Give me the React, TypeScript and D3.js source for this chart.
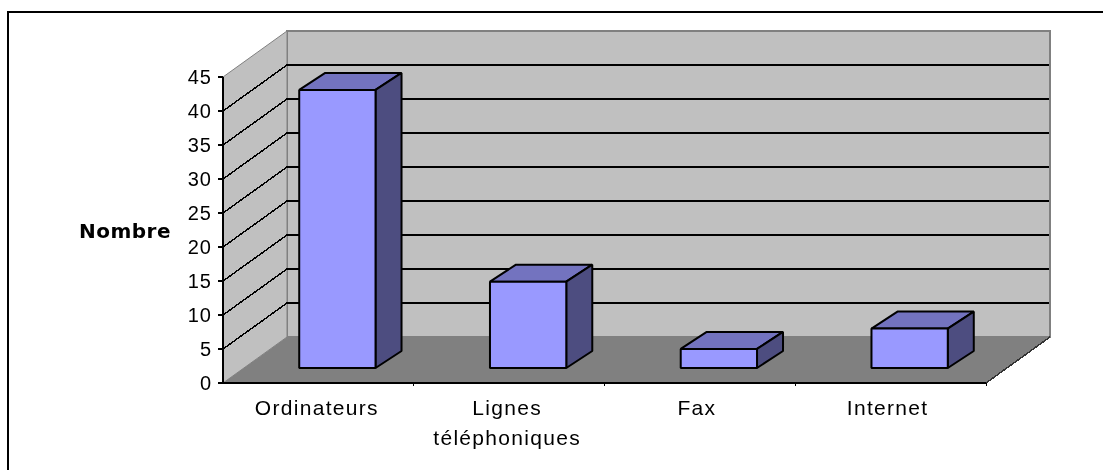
import React from "react"
import { scaleBand, scaleLinear, range, line } from "d3"

const categories = ["Ordinateurs", "Lignes\ntéléphoniques", "Fax", "Internet"]
const values = [40.9, 12.7, 2.8, 5.8]
const yTicks = range(0, 50, 5)
const axisTitle = "Nombre"

const width = 1103
const height = 470

// the 3D box: front edge of the floor, plus the offset to the back wall
const depthX = 64
const depthY = -46
// bars stand a bit inside the floor
const barShiftX = 19
const barShiftY = -15
const barDepthX = 26
const barDepthY = -17

const x = scaleBand<string>().domain(categories).range([223, 986])
const y = scaleLinear().domain([0, 45]).range([383, 77])
const barWidth = x.bandwidth() * 0.4

const poly = line()

const font = "'Liberation Sans', Arial, sans-serif"

export default function App() {
  const x0 = x.range()[0]
  const x1 = x.range()[1]
  const y0 = y(0)
  const yTop = y(45)

  return (
    <svg
      width={width}
      height={height}
      style={{ position: "absolute", left: 0, top: 0, display: "block", background: "#fff" }}
    >
      <g style={{ filter: "blur(0.4px)" }}>
        {/* frame, the picture is cropped on the right and at the bottom */}
        <path d={`M8,${height} V12 H${width}`} fill="none" stroke="#000" strokeWidth={2} shapeRendering="crispEdges" />

        {/* walls and floor */}
        <path
          d={poly([[x0 + depthX, yTop + depthY], [x1 + depthX, yTop + depthY], [x1 + depthX, y0 + depthY], [x0 + depthX, y0 + depthY]])! + "Z"}
          fill="#c0c0c0"
          stroke="#808080"
          strokeWidth={2}
          shapeRendering="crispEdges"
        />
        <path
          d={poly([[x0, yTop], [x0 + depthX, yTop + depthY], [x0 + depthX, y0 + depthY], [x0, y0]])! + "Z"}
          fill="#c0c0c0"
          stroke="#808080"
          strokeWidth={1}
        />
        <path
          d={poly([[x0, y0], [x1, y0], [x1 + depthX, y0 + depthY], [x0 + depthX, y0 + depthY]])! + "Z"}
          fill="#808080"
        />
        <path
          d={poly([[x1, y0], [x1 + depthX, y0 + depthY]])!}
          stroke="#333"
          strokeWidth={1.5}
          shapeRendering="crispEdges"
        />

        {/* gridlines */}
        {yTicks.filter(t => t > 0 && t < 45).map(t => (
          <g key={t} fill="none" stroke="#000" shapeRendering="crispEdges">
            <path d={poly([[x0, y(t)], [x0 + depthX, y(t) + depthY]])!} strokeWidth={1.5} />
            <path d={poly([[x0 + depthX, y(t) + depthY], [x1 + depthX - 1, y(t) + depthY]])!} strokeWidth={2} />
          </g>
        ))}

        {/* axes */}
        <g stroke="#000" fill="none" shapeRendering="crispEdges">
          <path d={poly([[x0, yTop], [x0, y0]])!} strokeWidth={2} />
          <path d={poly([[x0 - 1, y0], [x1, y0]])!} strokeWidth={2} />
          {yTicks.map(t => (
            <path key={t} d={poly([[x0 - 5, y(t)], [x0, y(t)]])!} strokeWidth={2} />
          ))}
          {categories.slice(1).map(c => (
            <path key={c} d={poly([[x(c)!, y0], [x(c)!, y0 + 3]])!} strokeWidth={1} />
          ))}
          <path d={poly([[x1, y0], [x1, y0 + 3]])!} strokeWidth={1} />
        </g>

        {/* bars */}
        {categories.map((c, i) => {
          const left = x(c)! + (x.bandwidth() - barWidth) / 2 + barShiftX
          const right = left + barWidth
          const bottom = y0 + barShiftY
          const top = bottom - (y0 - y(values[i]))
          return (
            <g key={c} stroke="#000" strokeWidth={2} strokeLinejoin="bevel">
              <path
                d={poly([[left, top], [right, top], [right + barDepthX, top + barDepthY], [left + barDepthX, top + barDepthY]])! + "Z"}
                fill="#7373bf"
              />
              <path
                d={poly([[right, top], [right + barDepthX, top + barDepthY], [right + barDepthX, bottom + barDepthY], [right, bottom]])! + "Z"}
                fill="#4d4d80"
              />
              <path
                d={poly([[left, top], [right, top], [right, bottom], [left, bottom]])! + "Z"}
                fill="#9999ff"
              />
            </g>
          )
        })}

        {/* labels */}
        <g fontFamily={font} fontSize={21} fill="#000" letterSpacing={1.3}>
          {yTicks.map(t => (
            <text key={t} x={212} y={y(t) + 7} textAnchor="end" fontSize={20} letterSpacing={1}>{t}</text>
          ))}
          {categories.map((c, i) => (
            <text key={c} textAnchor="middle">
              {c.split("\n").map((part, j) => (
                <tspan key={j} x={x(c)! + x.bandwidth() / 2 + [-1.5, -2, -3, -3][i]} y={415 + j * 30}>{part}</tspan>
              ))}
            </text>
          ))}
          <text x={171} y={238} textAnchor="end" fontFamily="'DejaVu Sans', sans-serif" fontWeight="bold" fontSize={20} letterSpacing={0.5}>{axisTitle}</text>
        </g>
      </g>
    </svg>
  )
}
